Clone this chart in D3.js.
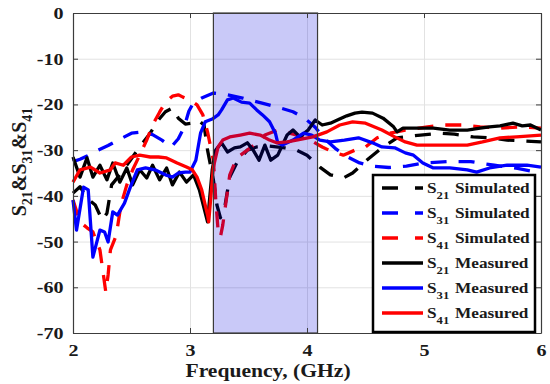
<!DOCTYPE html>
<html>
<head>
<meta charset="utf-8">
<script src="https://d3js.org/d3.v7.min.js"></script>
<style>
  body { margin: 0; background: #fff; }
  text { font-family: "Liberation Serif", "Times New Roman", serif; font-weight: bold; fill: #1a1a1a; }
</style>
</head>
<body>
<svg width="550" height="384"></svg>
<script>
// frequency (GHz), dB pairs
const s21Sim = [[2.00,-39.4],[2.06,-38],[2.12,-40.5],[2.19,-42],[2.25,-45.3],[2.29,-43.8],[2.33,-37.6],[2.40,-35.4],[2.49,-32.2],[2.57,-29.3],[2.66,-26.3],[2.73,-23.4],[2.79,-21.6],[2.85,-20.8],[2.90,-23],[2.96,-24.3],[3.02,-24.1],[3.07,-23.4],[3.12,-24.5],[3.15,-30],[3.20,-36.5],[3.23,-42],[3.26,-44.8],[3.30,-42],[3.34,-35.9],[3.40,-32.8],[3.49,-30],[3.57,-29.3],[3.68,-29.1],[3.81,-29.5],[3.91,-30],[4.00,-31.1],[4.11,-33.7],[4.20,-35.4],[4.31,-36.1],[4.39,-35],[4.51,-32.2],[4.65,-29.3],[4.77,-27.3],[4.97,-26.7],[5.14,-26.3],[5.26,-26.5],[5.42,-27.1],[5.56,-27.3],[5.71,-27.8],[5.86,-28],[6.00,-28.2]];
const s31Sim = [[2.00,-32.5],[2.06,-32],[2.12,-31.3],[2.20,-30.2],[2.30,-29],[2.40,-27.6],[2.50,-26.3],[2.60,-26],[2.68,-26.6],[2.76,-27.8],[2.84,-29.3],[2.90,-27.5],[2.95,-25],[2.99,-21.5],[3.03,-19.6],[3.10,-18.6],[3.20,-17.5],[3.30,-17.8],[3.45,-18.6],[3.60,-19.6],[3.75,-20.6],[3.88,-21.6],[3.98,-23],[4.07,-25],[4.15,-27.5],[4.25,-29.8],[4.35,-31.5],[4.45,-32.8],[4.55,-33.5],[4.70,-33.8],[4.85,-33.5],[5.00,-32.8],[5.20,-32.5],[5.40,-32.5],[5.60,-33.3],[5.80,-34],[6.00,-35]];
const s41Sim = [[2.00,-40.9],[2.06,-45.7],[2.12,-47],[2.17,-47.9],[2.23,-51.8],[2.26,-57.3],[2.28,-61],[2.30,-57.3],[2.32,-51.8],[2.37,-48.6],[2.41,-42],[2.46,-37.6],[2.51,-34.3],[2.57,-31.1],[2.63,-27.8],[2.68,-24.5],[2.74,-21.7],[2.79,-19.5],[2.85,-18.2],[2.90,-17.9],[2.94,-18.4],[3.00,-19],[3.06,-20.1],[3.11,-22.3],[3.15,-26],[3.20,-32.2],[3.22,-40.9],[3.24,-47.5],[3.26,-49],[3.28,-46.4],[3.31,-40.9],[3.34,-35.4],[3.40,-31.7],[3.49,-30],[3.57,-28.4],[3.64,-26.7],[3.75,-25.6],[3.85,-26.3],[3.94,-26.9],[4.04,-28],[4.13,-29.3],[4.22,-30.4],[4.31,-31.1],[4.41,-30],[4.50,-29.3],[4.60,-27.3],[4.71,-26.3],[4.84,-25.6],[5.03,-24.9],[5.18,-24.5],[5.33,-24.5],[5.48,-24.9],[5.65,-25.2],[5.82,-24.9],[6.00,-25.2]];
const s21Meas = [[2.00,-31.5],[2.06,-35.9],[2.12,-31.7],[2.17,-35.9],[2.23,-33.3],[2.29,-36.5],[2.34,-32.8],[2.40,-37],[2.46,-33.9],[2.51,-37.6],[2.57,-34.3],[2.63,-36.1],[2.68,-33.3],[2.74,-36.5],[2.80,-33.9],[2.85,-37.6],[2.91,-34.8],[2.97,-37],[3.03,-35.4],[3.08,-38.7],[3.15,-45.7],[3.19,-34.3],[3.22,-30],[3.27,-28.4],[3.32,-30.4],[3.38,-29.5],[3.43,-29.3],[3.49,-28.4],[3.54,-30],[3.59,-32.2],[3.64,-28.9],[3.69,-32.2],[3.75,-31.1],[3.83,-26.7],[3.88,-25.6],[3.94,-27.1],[4.01,-25.6],[4.07,-23.4],[4.13,-24.5],[4.20,-24.1],[4.26,-23.4],[4.34,-22.5],[4.41,-21.9],[4.47,-21.7],[4.56,-21.9],[4.65,-23],[4.74,-24.9],[4.77,-26],[4.82,-25.2],[4.97,-25.2],[5.08,-25.2],[5.22,-25.6],[5.37,-25.6],[5.48,-25.2],[5.56,-24.9],[5.65,-24.7],[5.76,-24.1],[5.84,-24.7],[5.91,-24.5],[6.00,-25.6]];
const s31Meas = [[2.00,-40.9],[2.03,-47.5],[2.09,-38.1],[2.13,-38.7],[2.17,-53.4],[2.23,-47.5],[2.27,-47.9],[2.30,-50.1],[2.34,-43.5],[2.38,-44.2],[2.44,-41.6],[2.49,-38.1],[2.55,-34.3],[2.62,-33.9],[2.70,-34.3],[2.79,-35.4],[2.85,-35.9],[2.90,-35],[2.96,-34.8],[3.00,-34.8],[3.05,-32.2],[3.09,-26.3],[3.13,-23.8],[3.19,-23.2],[3.24,-22.3],[3.27,-21.2],[3.32,-19],[3.37,-18.6],[3.44,-19.5],[3.51,-19.7],[3.57,-21.2],[3.62,-22.3],[3.68,-23.8],[3.73,-26.3],[3.75,-28.4],[3.79,-28.9],[3.88,-27.8],[3.97,-26.3],[4.04,-26.7],[4.11,-27.8],[4.20,-28.2],[4.32,-27.8],[4.44,-27.3],[4.56,-28.4],[4.64,-29.3],[4.75,-29.5],[4.84,-30.6],[4.91,-31.1],[4.99,-32.8],[5.08,-33.9],[5.22,-33.9],[5.37,-34.3],[5.45,-34.8],[5.56,-33.9],[5.71,-33.3],[5.88,-33.3],[6.00,-33.7]];
const s41Meas = [[2.00,-37],[2.06,-34.3],[2.15,-33.7],[2.23,-35],[2.32,-34.3],[2.36,-32.8],[2.43,-33.3],[2.50,-31.5],[2.57,-31.1],[2.66,-31.5],[2.73,-31.5],[2.80,-31.7],[2.89,-32.8],[2.97,-33.7],[3.02,-34.3],[3.06,-35.9],[3.10,-38.7],[3.15,-44.2],[3.16,-45.7],[3.20,-33.7],[3.24,-29.3],[3.28,-27.8],[3.34,-27.1],[3.43,-26.7],[3.51,-26.3],[3.60,-26.7],[3.68,-27.8],[3.74,-28.4],[3.83,-28.2],[3.91,-27.8],[4.05,-27.1],[4.17,-26],[4.28,-24.5],[4.39,-23.8],[4.50,-24.1],[4.64,-25.6],[4.75,-27.1],[4.84,-28.2],[4.94,-28.9],[5.08,-28.9],[5.22,-28.9],[5.37,-28.9],[5.50,-28.2],[5.65,-27.3],[5.79,-27.1],[6.00,-26.7]];

const xTicks = [2, 3, 4, 5, 6];
const yTicks = [0, -10, -20, -30, -40, -50, -60, -70];
const bandRange = [3.2, 4.09];
const seriesNames = ["21", "31", "41", "21", "31", "41"];
const seriesKinds = ["Simulated", "Simulated", "Simulated", "Measured", "Measured", "Measured"];
const seriesColors = ["#000000", "#0000ff", "#ff0000", "#000000", "#0000ff", "#ff0000"];
const seriesData = [s21Sim, s31Sim, s41Sim, s21Meas, s31Meas, s41Meas];

const plotLeft = 73, plotRight = 541, plotTop = 13, plotBottom = 333;
const svg = d3.select("svg");
svg.append("rect").attr("width", 550).attr("height", 384).attr("fill", "#fff");

const x = d3.scaleLinear().domain([2, 6]).range([plotLeft, plotRight]);
const y = d3.scaleLinear().domain([-70, 0]).range([plotBottom, plotTop]);

// grid
svg.append("g").attr("transform", `translate(0,${plotBottom})`)
  .call(d3.axisBottom(x).tickValues(xTicks.slice(1, -1)).tickSize(-(plotBottom - plotTop)).tickFormat(""))
  .call(g => g.select(".domain").remove())
  .selectAll("line").attr("stroke", "#e2e2e2");
svg.append("g").attr("transform", `translate(${plotLeft},0)`)
  .call(d3.axisLeft(y).tickValues(yTicks.slice(1, -1)).tickSize(-(plotRight - plotLeft)).tickFormat(""))
  .call(g => g.select(".domain").remove())
  .selectAll("line").attr("stroke", "#e2e2e2");

// curves
const line = d3.line().x(d => x(d[0])).y(d => y(d[1]));
seriesData.forEach((data, i) => {
  svg.append("path")
    .datum(data)
    .attr("d", line)
    .attr("fill", "none")
    .attr("stroke", seriesColors[i])
    .attr("stroke-width", 3.3)
    .attr("stroke-linejoin", "round")
    .attr("stroke-dasharray", seriesKinds[i] == "Simulated" ? "16,12" : null);
});

// shaded band
svg.append("rect")
  .attr("x", x(bandRange[0])).attr("y", plotTop)
  .attr("width", x(bandRange[1]) - x(bandRange[0])).attr("height", plotBottom - plotTop)
  .attr("fill", "#0000e0").attr("fill-opacity", 0.21)
  .attr("stroke", "#3a3a3a").attr("stroke-width", 1.2);

// axes
function styleAxis(g) {
  g.select(".domain").attr("stroke", "#3c3c3c").attr("stroke-width", 1.2);
  g.selectAll(".tick line").attr("stroke", "#3c3c3c");
  g.selectAll("text").attr("font-size", 17).attr("fill", "#1a1a1a")
    .attr("transform", "scale(1.18,1)");
}
const hyphen = d => String(d).replace("\u2212", "-");
svg.append("g").attr("transform", `translate(0,${plotBottom})`)
  .call(d3.axisBottom(x).tickValues(xTicks).tickSize(-5).tickSizeOuter(0).tickPadding(11).tickFormat(d3.format("d")))
  .call(styleAxis);
svg.append("g").attr("transform", `translate(${plotLeft},0)`)
  .call(d3.axisLeft(y).tickValues(yTicks).tickSize(-5).tickSizeOuter(0).tickPadding(8).tickFormat(hyphen))
  .call(styleAxis);
svg.append("g").attr("transform", `translate(0,${plotTop})`)
  .call(d3.axisTop(x).tickValues(xTicks).tickSize(-5).tickSizeOuter(0).tickFormat(""))
  .call(styleAxis);
svg.append("g").attr("transform", `translate(${plotRight},0)`)
  .call(d3.axisRight(y).tickValues(yTicks).tickSize(-5).tickSizeOuter(0).tickFormat(""))
  .call(styleAxis);

// axis titles
svg.append("text")
  .attr("transform", "translate(268,377) scale(1.2,1)")
  .attr("text-anchor", "middle").attr("font-size", 18)
  .text("Frequency, (GHz)");

const yTitle = svg.append("text")
  .attr("transform", "translate(26,162) rotate(-90)")
  .attr("text-anchor", "middle").attr("font-size", 20);
["21", "31", "41"].forEach((s, i) => {
  yTitle.append("tspan").attr("dy", i == 0 ? 0 : -6).text((i == 0 ? "" : "&") + "S");
  yTitle.append("tspan").attr("dy", 6).attr("font-size", 14).text(s);
});

// legend
const legend = svg.append("g");
legend.append("rect")
  .attr("x", 373).attr("y", 175).attr("width", 162).attr("height", 157)
  .attr("fill", "#fff").attr("stroke", "#000").attr("stroke-width", 2.5);
seriesData.forEach((data, i) => {
  const ly = 188 + i * 25;
  legend.append("line")
    .attr("x1", 382).attr("x2", 423).attr("y1", ly).attr("y2", ly)
    .attr("stroke", seriesColors[i]).attr("stroke-width", 3.3)
    .attr("stroke-dasharray", seriesKinds[i] == "Simulated" ? "16,17" : null);
  const t = legend.append("text")
    .attr("transform", `translate(427,${ly + 5}) scale(1.15,1)`)
    .attr("font-size", 15);
  t.append("tspan").text("S");
  t.append("tspan").attr("dy", 6).attr("font-size", 11).text(seriesNames[i]);
  t.append("tspan").attr("dy", -6).attr("dx", 5).text(seriesKinds[i]);
});
</script>
</body>
</html>
